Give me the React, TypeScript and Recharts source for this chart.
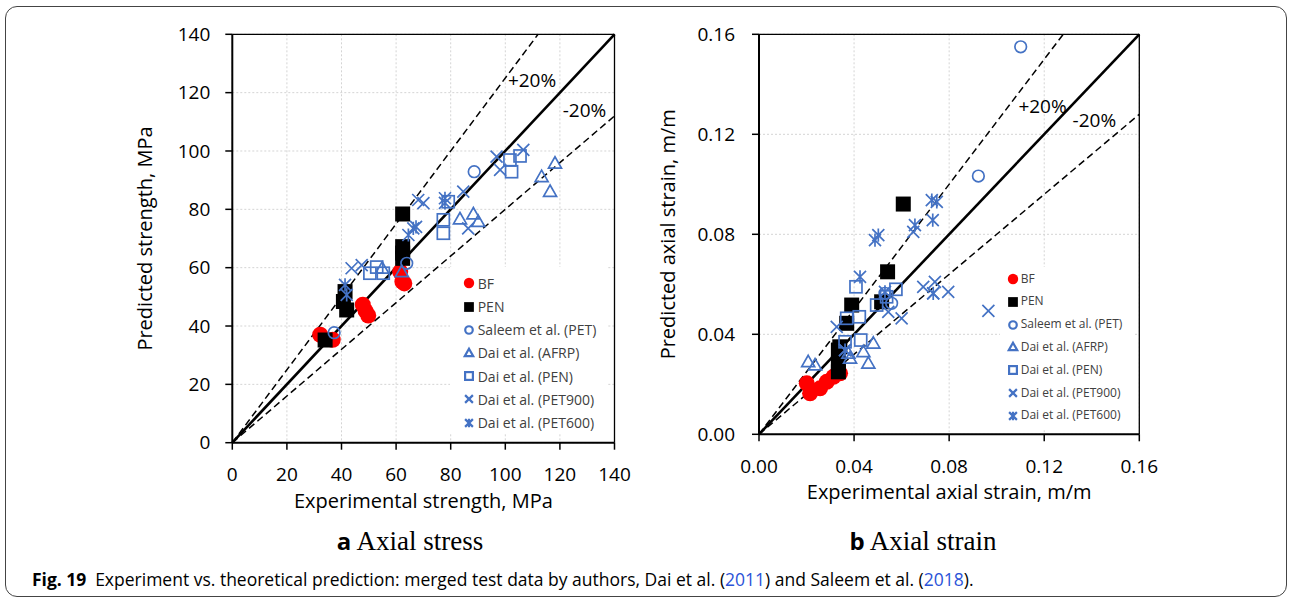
import React from "react";
import { ScatterChart, Scatter, XAxis, YAxis, CartesianGrid, ReferenceLine, ReferenceDot, Legend } from "recharts";

const BLUE = "#4472C4";

const seriesNames = ["BF", "PEN", "Saleem et al. (PET)", "Dai et al. (AFRP)", "Dai et al. (PEN)", "Dai et al. (PET900)", "Dai et al. (PET600)"];
const seriesKinds = ["dot", "block", "ring", "tri", "box", "cross", "star"];

// +20% / -20% bounds
const UPPER = 1.25;
const LOWER = 0.8;

// (a) axial stress, MPa: [experimental, predicted]
const stressTicks = [0, 20, 40, 60, 80, 100, 120, 140];
const stressBF = [[32.2, 37], [36.8, 35.3], [47.8, 47.3], [48.8, 45.2], [49.8, 43.6], [61.5, 58.6], [62.3, 55.2], [63, 54.6]];
const stressPEN = [[34, 35.2], [41.3, 51.8], [40.7, 48.4], [41.9, 45.5], [62.4, 78.4], [62.4, 67.2], [62.4, 65], [62.4, 63.2]];
const stressSaleem = [[37.3, 37.7], [63.9, 61.5], [88.6, 92.9]];
const stressAFRP = [[62.1, 58.6], [54.9, 59.8], [83.4, 76.7], [88.3, 78.4], [90.1, 75.8], [113.3, 91.2], [118.2, 95.8], [116.4, 86.1]];
const stressDaiPEN = [[50.4, 58.1], [52.9, 60.2], [55.3, 58.1], [77.3, 76.4], [77.3, 71.8], [79.1, 82.6], [101.7, 96.9], [102.3, 92.9], [105.4, 98.3]];
const stressPET900 = [[43.7, 59.8], [47.4, 60.9], [68.1, 83.2], [70, 82.1], [84.6, 86.1], [86.4, 73.5], [96.8, 98.1], [98.1, 93.5], [106.6, 100.4]];
const stressPET600 = [[41.3, 54.1], [41.9, 50.7], [64.5, 71.2], [66.3, 73.5], [67.3, 74], [77.9, 83.8], [77.9, 82.2]];

// (b) axial strain, m/m
const strainTicks = [0, 0.04, 0.08, 0.12, 0.16];
const strainBF = [[0.0201, 0.0204], [0.0215, 0.0164], [0.0257, 0.0184], [0.0285, 0.021], [0.0313, 0.023], [0.0341, 0.0244]];
const strainPEN = [[0.0607, 0.0921], [0.0541, 0.065], [0.039, 0.0517], [0.0369, 0.0444], [0.0516, 0.053], [0.034, 0.035], [0.0334, 0.0337], [0.0334, 0.0284], [0.0334, 0.025]];
const strainSaleem = [[0.1101, 0.155], [0.0923, 0.1033], [0.0558, 0.0524], [0.053, 0.0564]];
const strainAFRP = [[0.0207, 0.029], [0.0236, 0.0277], [0.0481, 0.0364], [0.0439, 0.033], [0.046, 0.0284], [0.0376, 0.0324], [0.0383, 0.0304]];
const strainDaiPEN = [[0.0408, 0.059], [0.0422, 0.047], [0.0369, 0.0464], [0.0362, 0.037], [0.0428, 0.0377], [0.0495, 0.0517], [0.0576, 0.058], [0.0537, 0.055]];
const strainPET900 = [[0.0327, 0.043], [0.0691, 0.059], [0.074, 0.061], [0.0796, 0.057], [0.0733, 0.0564], [0.0965, 0.0494], [0.06, 0.0464], [0.0544, 0.049], [0.0649, 0.081], [0.0362, 0.0337]];
const strainPET600 = [[0.0425, 0.063], [0.0488, 0.0777], [0.0502, 0.0797], [0.0656, 0.0837], [0.0727, 0.0937], [0.0748, 0.093], [0.0731, 0.0857], [0.0733, 0.0564], [0.053, 0.057], [0.0362, 0.0337]];

function Marker({ kind, cx, cy, k, w }: { kind: string; cx: number; cy: number; k: number; w: number }) {
  switch (kind) {
    case "dot":
      return <circle cx={cx} cy={cy} r={8 * k} fill="#FF0000" />;
    case "block": {
      const h = 7.5 * k;
      return <rect x={cx - h} y={cy - h} width={2 * h} height={2 * h} fill="#000" />;
    }
    case "ring":
      return <circle cx={cx} cy={cy} r={5.8 * k} fill="none" stroke={BLUE} strokeWidth={w} />;
    case "tri": {
      const h = 6.5 * k;
      return <polygon points={`${cx},${cy - h} ${cx + h},${cy + h * 0.75} ${cx - h},${cy + h * 0.75}`} fill="none" stroke={BLUE} strokeWidth={w} />;
    }
    case "box": {
      const h = 6 * k;
      return <rect x={cx - h} y={cy - h} width={2 * h} height={2 * h} fill="none" stroke={BLUE} strokeWidth={w} />;
    }
    case "cross": {
      const h = 6 * k;
      return <path d={`M${cx - h},${cy - h}L${cx + h},${cy + h}M${cx + h},${cy - h}L${cx - h},${cy + h}`} stroke={BLUE} strokeWidth={w} />;
    }
    default: {
      const h = 6 * k;
      return <path d={`M${cx - h},${cy - h}L${cx + h},${cy + h}M${cx + h},${cy - h}L${cx - h},${cy + h}M${cx},${cy - h * 1.1}L${cx},${cy + h * 1.1}`} stroke={BLUE} strokeWidth={w} />;
    }
  }
}

const toPts = (arr: number[][]) => arr.map(([x, y]) => ({ x, y }));

interface PanelProps {
  left: number;
  width: number;
  height: number;
  margin: { top: number; right: number; bottom: number; left: number };
  yAxisW: number;
  xAxisH: number;
  tmX: number;
  tmY: number;
  max: number;
  ticks: number[];
  fmt: (v: number) => string;
  series: number[][][];
  xTitle: string;
  yTitle: string;
  notes: { text: string; x: number; y: number }[];
  lg: { left: number; top: number; width: number; height: number; padTop: number; rowH: number; markX: number; textX: number; fontSize: number };
}

function Panel(p: PanelProps) {
  const renderLegend = () => (
    <div style={{ paddingTop: p.lg.padTop }}>
      {seriesNames.map((name, i) => (
        <div key={name} style={{ position: "relative", height: p.lg.rowH, lineHeight: `${p.lg.rowH}px`, fontSize: p.lg.fontSize, color: "#404040", whiteSpace: "nowrap" }}>
          <svg width={16} height={16} style={{ position: "absolute", left: p.lg.markX - 8, top: p.lg.rowH / 2 - 8 }}>
            <Marker kind={seriesKinds[i]} cx={8} cy={8} k={0.65} w={2.2} />
          </svg>
          <span style={{ position: "absolute", left: p.lg.textX }}>{name}</span>
        </div>
      ))}
    </div>
  );

  return (
    <div style={{ position: "absolute", left: p.left, top: 0 }}>
      <ScatterChart width={p.width} height={p.height} margin={p.margin}>
        <CartesianGrid stroke="#d4d4d4" strokeDasharray="2 2" />
        <XAxis
          type="number"
          dataKey="x"
          domain={[0, p.max]}
          ticks={p.ticks}
          tickFormatter={p.fmt}
          height={p.xAxisH}
          tickSize={7}
          tickMargin={p.tmX}
          axisLine={{ stroke: "#000", strokeWidth: 2 }}
          tickLine={{ stroke: "#000", strokeWidth: 1.5 }}
          tick={{ fontSize: 19, fill: "#000" }}
          label={{ value: p.xTitle, position: "center", fontSize: 20, fill: "#000" }}
          allowDataOverflow
        />
        <YAxis
          type="number"
          dataKey="y"
          domain={[0, p.max]}
          ticks={p.ticks}
          tickFormatter={p.fmt}
          width={p.yAxisW}
          tickSize={7}
          tickMargin={p.tmY}
          axisLine={{ stroke: "#000", strokeWidth: 2 }}
          tickLine={{ stroke: "#000", strokeWidth: 1.5 }}
          tick={{ fontSize: 19, fill: "#000" }}
          label={{ value: p.yTitle, position: "center", angle: -90, fontSize: 20, fill: "#000" }}
          allowDataOverflow
        />
        <ReferenceLine y={p.max} stroke="#000" strokeWidth={1.3} />
        <ReferenceLine x={p.max} stroke="#000" strokeWidth={1.3} />
        <ReferenceLine segment={[{ x: 0, y: 0 }, { x: p.max / UPPER, y: p.max }]} stroke="#000" strokeWidth={1.5} strokeDasharray="7 4" />
        <ReferenceLine segment={[{ x: 0, y: 0 }, { x: p.max, y: p.max * LOWER }]} stroke="#000" strokeWidth={1.5} strokeDasharray="7 4" />
        <ReferenceLine segment={[{ x: 0, y: 0 }, { x: p.max, y: p.max }]} stroke="#000" strokeWidth={2.6} />
        {p.notes.map((n) => (
          <ReferenceDot key={n.text} x={n.x} y={n.y} r={1} fill="none" stroke="none" label={{ value: n.text, position: "center", fontSize: 19, fill: "#000" }} />
        ))}
        {p.series.map((s, i) => (
          <Scatter
            key={seriesNames[i]}
            name={seriesNames[i]}
            data={toPts(s)}
            isAnimationActive={false}
            shape={(props: any) => <Marker kind={seriesKinds[i]} cx={props.cx} cy={props.cy} k={1} w={1.7} />}
          />
        ))}
        <Legend
          layout="vertical"
          align="center"
          verticalAlign="middle"
          content={renderLegend}
          wrapperStyle={{ left: p.lg.left, top: p.lg.top, width: p.lg.width, height: p.lg.height, background: "#fff" }}
        />
      </ScatterChart>
    </div>
  );
}

export default function App() {
  return (
    <div style={{ position: "absolute", left: 0, top: 0, width: 1290, height: 599, background: "#fff", fontFamily: "'Open Sans', sans-serif", overflow: "hidden" }}>
      <div style={{ position: "absolute", left: 5, top: 6, width: 1280, height: 589, border: "1px solid #444", borderRadius: 12 }} />
      <Panel
        left={0}
        width={640}
        height={570}
        margin={{ top: 34.3, right: 25.5, bottom: 10.3, left: 57.7 }}
        yAxisW={174.6}
        xAxisH={117}
        tmX={18}
        tmY={15}
        max={140}
        ticks={stressTicks}
        fmt={(v) => String(v)}
        series={[stressBF, stressPEN, stressSaleem, stressAFRP, stressDaiPEN, stressPET900, stressPET600]}
        xTitle="Experimental strength, MPa"
        yTitle="Predicted strength, MPa"
        notes={[{ text: "+20%", x: 109.8, y: 124.4 }, { text: "-20%", x: 129, y: 114.1 }]}
        lg={{ left: 450, top: 267, width: 157, height: 166, padTop: 4.7, rowH: 23.24, markX: 19, textX: 27.7, fontSize: 14 }}
      />
      <Panel
        left={560}
        width={600}
        height={570}
        margin={{ top: 34.3, right: 20.7, bottom: 20.3, left: 17 }}
        yAxisW={182}
        xAxisH={115.4}
        tmX={18}
        tmY={17}
        max={0.16}
        ticks={strainTicks}
        fmt={(v) => v.toFixed(2)}
        series={[strainBF, strainPEN, strainSaleem, strainAFRP, strainDaiPEN, strainPET900, strainPET600]}
        xTitle="Experimental axial strain, m/m"
        yTitle="Predicted axial strain, m/m"
        notes={[{ text: "+20%", x: 0.1193, y: 0.1313 }, { text: "-20%", x: 0.1411, y: 0.1257 }]}
        lg={{ left: 440, top: 267, width: 133, height: 163, padTop: 0.6, rowH: 22.8, markX: 13.3, textX: 20.7, fontSize: 12 }}
      />
      <div style={{ position: "absolute", left: 260, width: 300, top: 525, lineHeight: "30px", textAlign: "center", fontSize: 27 }}>
        <span style={{ fontWeight: 700, fontSize: 24 }}>a</span>
        <span style={{ fontFamily: "'Liberation Serif', serif" }}> Axial stress</span>
      </div>
      <div style={{ position: "absolute", left: 773, width: 300, top: 525, lineHeight: "30px", textAlign: "center", fontSize: 27 }}>
        <span style={{ fontWeight: 700, fontSize: 24 }}>b</span>
        <span style={{ fontFamily: "'Liberation Serif', serif" }}> Axial strain</span>
      </div>
      <div style={{ position: "absolute", left: 32, top: 569, lineHeight: "20px", fontSize: 17.5, color: "#000", whiteSpace: "nowrap" }}>
        <span style={{ fontWeight: 700 }}>Fig. 19</span>
        {"\u2002Experiment vs. theoretical prediction: merged test data by authors, Dai et al. ("}
        <span style={{ color: "#2b53d8" }}>2011</span>
        {") and Saleem et al. ("}
        <span style={{ color: "#2b53d8" }}>2018</span>
        {")."}
      </div>
    </div>
  );
}
